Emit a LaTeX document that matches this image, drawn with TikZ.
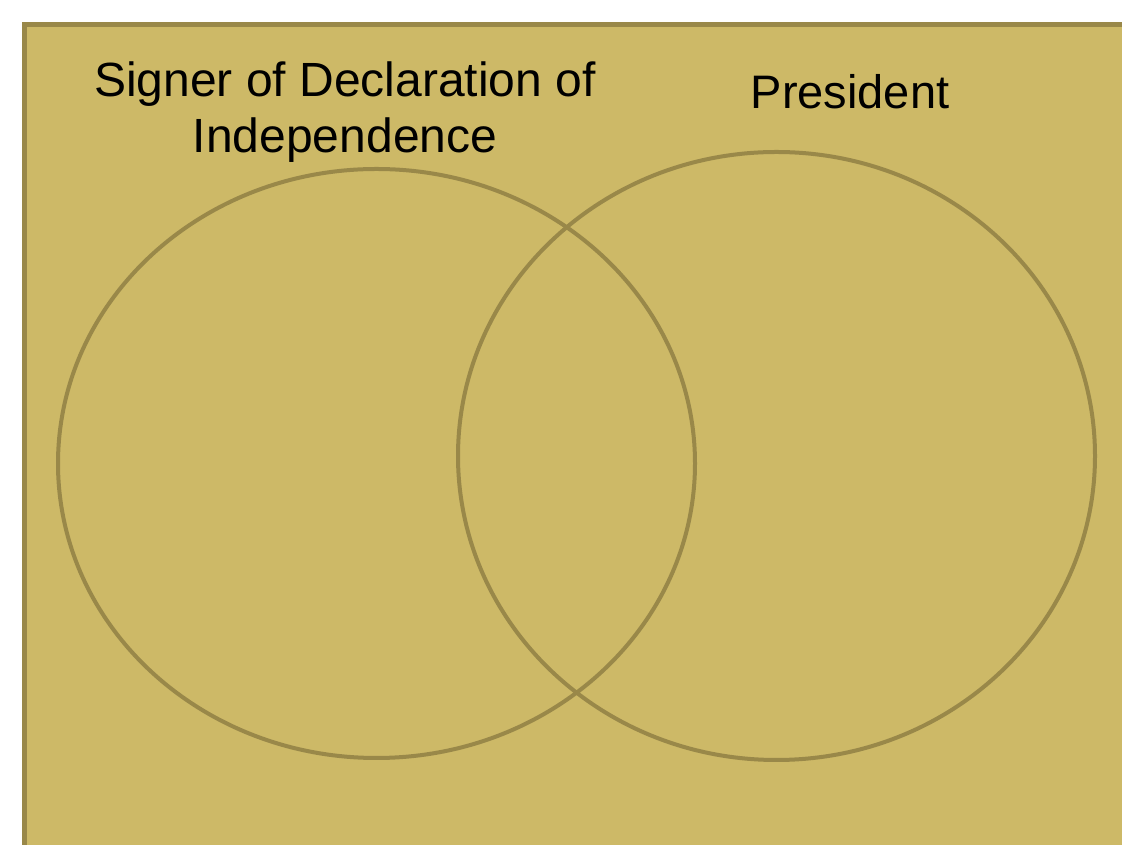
\documentclass[tikz,border=0pt]{standalone}
\usepackage{fontspec}
\setmainfont{Liberation Sans}
\definecolor{tanfill}{HTML}{CDB967}
\definecolor{tanline}{HTML}{998849}
\begin{document}
\begin{tikzpicture}[x=1pt,y=1pt,
  setcircle/.style={draw=tanline,line width=4pt},
  label/.style={font=\fontsize{47}{56}\selectfont,text=black,anchor=base,inner sep=0pt}]
\useasboundingbox (0,0) rectangle (1122,845);
\begin{scope}
\clip (0,0) rectangle (1122,845);
\fill[white] (0,0) rectangle (1122,845);
\draw[fill=tanfill,draw=tanline,line width=5pt] (24.5,820.5) rectangle (1140,-20);
\end{scope}
\draw[setcircle] (376.5,381.5) ellipse [x radius=318.5, y radius=294.5];
\draw[setcircle] (776.5,389) ellipse [x radius=318.5, y radius=304];
\node[label,font=\fontsize{48}{56}\selectfont] (l1) at (345,748) {Signer of Declaration of};
\node[label,font=\fontsize{48}{56}\selectfont] (l2) at (345,692) {Independence};
\node[label] (p) at (850,736) {President};
\end{tikzpicture}
\end{document}
